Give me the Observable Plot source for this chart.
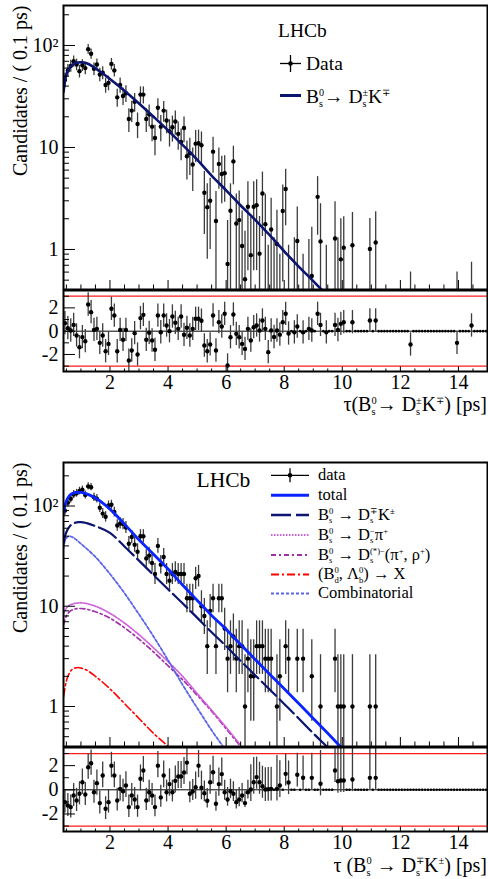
<!DOCTYPE html>
<html><head><meta charset="utf-8">
<script src="https://cdn.jsdelivr.net/npm/d3@7"></script>
<script src="https://cdn.jsdelivr.net/npm/@observablehq/plot@0.6"></script>
<style>
body{margin:0;background:#fff;}
#page{position:relative;width:488px;height:879px;overflow:hidden;font-family:"Liberation Serif","Times New Roman",serif;color:#000;background:#fff;}
.panel{position:absolute;left:0;}
.txt{position:absolute;white-space:nowrap;line-height:1;}
.ss{position:relative;display:inline-block;font-size:0.52em;vertical-align:0.692em;line-height:1;}
.ss>.u{display:block;line-height:1;}
.ss>.d{position:absolute;left:0;top:1.115em;line-height:1;}
</style></head>
<body><div id="page"></div>
<script>
// ---------------- DATA ----------------
const tDomain = [0.4, 15];
const tStart = 0.4, binWidth = 0.1;
const xMajorTicks = [2, 4, 6, 8, 10, 12, 14];
const yMajorTicks = [1, 10, 100];
const pullTicks = [-2, 0, 2];
const yTitle = "Candidates / ( 0.1 ps)";

// top panel (sFit, weighted data)
const sfitValue = [
 46,57,63,70,65,56,64,60,92,83,
 59,65,52,54,41,43,66,57,31,41,
 32,34,19,23,28,17,33,33,19,21,
 16,12.4,24.5,16,23,18.4,14.4,15.8,18,13.6,
 11.3,15.5,8.2,8.8,6.8,10.9,11,10.5,3.6,2.6,
 3.0,9.1,1.9,6.9,5.5,5.6,0.72,2.4,7.3,1.8,
 1.94,1.08,0.51,2.62,0.88,2.62,2.72,0.91,3.54,1.77,
 0.2,1.57,0.3,1.13,0.1,2.38,3.91,0.2,null,0.3,
 1.21,null,0.1,null,0.25,0.55,null,3.28,1.2,null,
 0.2,null,null,1.28,0.3,0.8,1.04,null,null,1.1,
 null,null,null,null,null,1.01,null,1.17,null,null,
 null,null,null,null,null,null,null,null,null,-0.3,
 null,null,null,null,null,null,null,null,null,null,
 null,null,null,null,null,-0.3,null,null,null,null,
 0.15,null,null,null,null,null];
const sfitError = [
 7.5,8,8.5,9,8.5,8,8.5,8.3,10,9.6,
 8.2,8.6,7.8,7.9,7,7.1,8.6,8,6.2,7,
 6.2,6.4,5,5.4,5.9,4.8,6.3,6.3,5,5.1,
 4.6,4.1,5.6,4.6,5.3,4.8,4.3,4.5,4.8,4.2,
 3.9,4.4,3.4,3.5,3.1,3.8,3.8,3.7,2.2,1.8,
 2.0,3.5,1.8,3.0,2.7,2.7,1.2,2.0,3.0,1.7,
 1.8,1.3,1.0,2.0,1.2,2.0,2.1,1.2,2.2,1.7,
 0.9,1.6,1.0,1.3,0.8,1.9,2.2,0.9,null,1.0,
 1.4,null,0.8,null,1.0,1.1,null,1.9,1.6,null,
 0.9,null,null,1.65,1.0,1.2,1.05,null,null,1.2,
 null,null,null,null,null,1.0,null,1.17,null,null,
 null,null,null,null,null,null,null,null,null,0.9,
 null,null,null,null,null,null,null,null,null,null,
 null,null,null,null,null,0.9,null,null,null,null,
 0.6,null,null,null,null,null];
const sfitPull = [
 0.69,0.26,0.06,0.54,-0.37,-1.37,-0.51,-0.86,2.29,1.63,
 0.11,0.2,-1.0,-0.37,-1.72,-1.09,1.92,1.34,-1.72,0.11,
 -0.74,0.11,-2.52,-1.66,-0.17,-2.0,1.12,1.4,-0.74,-0.14,
 -0.8,-1.6,1.34,-0.09,1.34,0.49,0,1.26,0.72,0.2,
 1.26,-0.31,0.29,-0.37,0.2,1.06,1.06,0.9,-1.23,-1.72,
 -1.14,1.35,-1.66,0.77,0.4,1.49,-2.94,-0.52,1.43,-0.23,
 -0.52,-1.09,-1.52,0.2,-0.8,0.34,0.49,0.06,0.92,0.2,
 -1.8,0.06,-0.5,0.06,-0.3,0.77,1.49,-0.2,0,-0.1,
 0.4,0,-0.1,0,0.2,0.06,0,1.49,0.54,0,
 -0.1,0,0,0.54,0.1,0.63,0.77,0,0,0.77,
 0,0,0,0,0,0.92,0,0.92,0,0,
 0,0,0,0,0,0,0,0,0,-1.14,
 0,0,0,0,0,0,0,0,0,0,
 0,0,0,0,0,-1.0,0,0,0,0,
 0.49,0,0,0,0,0];
const sfitCurveT = [0.4,0.45,0.5,0.6,0.7,0.8,0.9,1.0,1.2,1.4,1.6,1.8,2.0,2.5,3.0,3.5,4.0,4.5,5.0,5.5,6.0,6.5,7.0,7.5,8.0,8.5,9.0,9.3];
const sfitCurveV = [35,45,52,60,64.5,67,68,68.5,67,62.5,57,52,47,36,27,20,14.7,10.6,7.6,5.3,3.8,2.7,1.95,1.38,0.96,0.68,0.49,0.4];

// bottom panel (cFit, event counts)
const cfitCount = [
 90,108,118,130,134,141,145,129,157,154,
 122,118,96,84,78,101,103,87,64,67,
 66,61,42,49,41,35,50,50,30,32,
 27,21,40,26,31,21,18,21,22,21,
 21,21,12,12,12,19,20,10,8,4,
 9,12,4,12,12,6,3,4,5,3,
 4,4,1,3,2,2,4,4,4,3,
 3,3,0,1,2,0,4,3,0,0,
 3,0,3,0,0,2,0,0,1,0,
 0,0,0,3,1,1,1,0,0,1,
 0,0,0,0,0,1,0,1,0,0,
 0,0,0,0,0,0,0,0,0,0,
 0,0,0,0,0,0,0,0,0,0,
 0,0,0,0,0,0,0,0,0,0,
 0,0,0,0,0,0];
const cfitPull = [
 -1.02,-1.30,-1.43,-0.47,-0.88,-0.33,0.63,-0.39,1.87,2.2,
 -0.2,0.55,-1.1,1.18,-1.57,-1.02,2.0,1.18,-0.88,0.08,
 -0.12,0.36,-1.43,-0.47,-0.8,-1.43,0.91,1.6,-0.88,-0.2,
 -0.47,-1.43,2.0,-0.63,1.18,-0.2,0.47,-0.2,0.74,1.1,
 1.1,1.43,2.25,-0.33,-0.14,0.22,2.0,0.17,-0.28,-0.9,
 0.63,1.45,-1.16,0.47,1.3,-0.2,-0.8,-0.12,-0.33,-1.02,
 -0.8,-0.47,-1.1,-0.2,0.03,0.63,1.05,0.63,0.3,0.03,
 0.05,0.08,0,0.08,0.36,0,1.32,0.6,0,0,
 1.24,0,1.0,0,0,0.99,0,0,0.5,0,
 0,0,0,1.6,0.71,0.77,0.77,0,0,0.85,
 0,0,0,0,0,0.99,0,0.99,0,0,
 0,0,0,0,0,0,0,0,0,0,
 0,0,0,0,0,0,0,0,0,0,
 0,0,0,0,0,0,0,0,0,0,
 0,0,0,0,0,0];
const cfitCurveT = [0.4,0.45,0.5,0.6,0.7,0.8,0.9,1.0,1.2,1.5,2.0,2.5,3.0,3.5,4.0,4.5,5.0,5.5,6.0,6.5,7.0,7.5,8.0,8.5,9.0,9.5,10.0];
const totalV  = [85,100,112,126,133,136,137,136.5,132,120,93,66,46,33,23.5,16.3,11.5,8.1,5.9,4.15,2.95,2.1,1.5,1.07,0.76,0.54,0.38];
const signalV = [42,50,55,62,66,68,69,69,67.5,63,54,39.5,28.5,20.5,14.8,10.7,7.7,5.5,4.0,2.85,2.05,1.48,1.06,0.76,0.54,0.39,0.28];
const bkgT    = [0.4,0.45,0.5,0.6,0.7,0.8,1.0,1.5,2.0,2.5,3.0,3.5,4.0,4.5,5.0,5.5,6.0,6.5];
const combV   = [38,45,48,50,49,47,42,31,21,13.5,8.3,5.0,2.9,1.65,0.97,0.58,0.36,0.22];
const dspiV   = [8.5,9.0,9.6,10.2,10.5,10.7,10.8,10.0,8.5,6.8,5.2,3.85,2.8,2.0,1.35,0.92,0.62,0.41];
const dstarV  = [6.5,7.4,8.0,8.8,9.2,9.4,9.5,8.8,7.6,6.1,4.7,3.5,2.55,1.85,1.3,0.9,0.6,0.4];
const bdlbT   = [0.4,0.5,0.6,0.7,0.8,0.9,1.0,1.2,1.5,2.0,2.5,3.0,3.5,4.0,4.3];
const bdlbV   = [1.25,1.8,2.15,2.35,2.42,2.45,2.42,2.3,2.0,1.5,1.07,0.76,0.54,0.40,0.33];

// ---------------- HELPERS ----------------
const W = 488, ML = 63, MR = 1, FW = W - ML - MR;
const FONT = '"Liberation Serif","Times New Roman",serif';
const page = document.getElementById("page");
const tBin = sfitValue.map((_, i) => +(tStart + binWidth * (i + 0.5)).toFixed(2));
const xMinorTicks = d3.range(0.5, 15.01, 0.5).filter(v => !xMajorTicks.includes(v));
const yMinorAll = [0.5,0.6,0.7,0.8,0.9,2,3,4,5,6,7,8,9,20,30,40,50,60,70,80,90,200];
const pullMinor = [-3, -1, 1, 3];
const fmtLog = d => d === 100 ? "10²" : String(d);
const series = (T, V) => T.map((t, i) => ({t, v: V[i]}));

function poissonLow(n) { if (n <= 0) return 0; return n * Math.pow(1 - 1/(9*n) - 1/(3*Math.sqrt(n)), 3); }
function poissonHigh(n) { const m = n + 1; return m * Math.pow(1 - 1/(9*m) + 1/(3*Math.sqrt(m)), 3); }

function place(el, top) {
  const d = document.createElement("div");
  d.className = "panel"; d.style.top = top + "px";
  d.appendChild(el); page.appendChild(d);
}
function addText(html, style) {
  const d = document.createElement("div");
  d.className = "txt"; Object.assign(d.style, style); d.innerHTML = html; page.appendChild(d);
}
const st = (a, b) => `<span class="ss"><span class="u">${a}</span>${b ? `<span class="d">${b}</span>` : ""}</span>`;

function mainPanel({height, mt, mb, yDomain, bars, dots, curves}) {
  const FH = height - mt - mb;
  const yMaj = yMajorTicks.filter(v => v >= yDomain[0] && v <= yDomain[1]);
  const yMin = yMinorAll.filter(v => v >= yDomain[0] && v <= yDomain[1]);
  return Plot.plot({
    width: W, height, marginLeft: ML, marginRight: MR, marginTop: mt, marginBottom: mb,
    style: {fontFamily: FONT, fontSize: "20px", background: "transparent", color: "black"},
    x: {domain: tDomain, axis: null, label: null},
    y: {type: "log", domain: yDomain, label: null},
    marks: [
      Plot.ruleX(bars, {x: "t", y1: "y1", y2: "y2", stroke: "#3c3c3c", strokeWidth: 1.3, clip: true}),
      Plot.dot(dots, {x: "t", y: "v", r: 2.2, fill: "black", clip: true}),
      ...curves.map(c => Plot.line(c.data, {x: "t", y: "v", stroke: c.color, strokeWidth: c.width,
        strokeDasharray: c.dash, curve: "monotone-x", clip: true})),
      Plot.tickY(yMaj, {y: d => d, insetRight: FW - 12, stroke: "black"}),
      Plot.tickY(yMin, {y: d => d, insetRight: FW - 6, stroke: "black"}),
      Plot.tickX(xMajorTicks, {x: d => d, insetTop: FH - 9, stroke: "black"}),
      Plot.tickX(xMinorTicks, {x: d => d, insetTop: FH - 4.5, stroke: "black"}),
      Plot.axisY({ticks: yMaj, tickSize: 0, tickPadding: 5, tickFormat: fmtLog, label: null}),
      Plot.text([yTitle], {text: d => d, frameAnchor: "top-left", rotate: -90, textAnchor: "end",
        lineAnchor: "middle", dx: -43}),
      Plot.frame({stroke: "black", strokeWidth: 2})
    ]
  });
}

function pullPanel({height, mt, mb, yDomain, bars, dots, zeros}) {
  const FH = height - mt - mb;
  return Plot.plot({
    width: W, height, marginLeft: ML, marginRight: MR, marginTop: mt, marginBottom: mb,
    style: {fontFamily: FONT, fontSize: "20px", background: "transparent", color: "black"},
    x: {domain: tDomain, label: null},
    y: {domain: yDomain, label: null},
    marks: [
      Plot.ruleY([-3, 3], {stroke: "#ff1a1a", strokeWidth: 1.2}),
      Plot.ruleY([0], {stroke: "black", strokeWidth: 1}),
      Plot.ruleX(bars, {x: "t", y1: "y1", y2: "y2", stroke: "#3c3c3c", strokeWidth: 1.3, clip: true}),
      Plot.dot(dots, {x: "t", y: "p", r: 2.2, fill: "black", clip: true}),
      Plot.dot(zeros, {x: "t", y: "p", r: 1.3, fill: "black", clip: true}),
      Plot.tickY(pullTicks, {y: d => d, insetRight: FW - 12, stroke: "black"}),
      Plot.tickY(pullMinor, {y: d => d, insetRight: FW - 6, stroke: "black"}),
      Plot.tickX(xMajorTicks, {x: d => d, insetTop: FH - 4.5, stroke: "black"}),
      Plot.tickX(xMinorTicks, {x: d => d, insetTop: FH - 2.5, stroke: "black"}),
      Plot.axisY({ticks: pullTicks, tickSize: 0, tickPadding: 5, tickFormat: d => String(d), label: null}),
      Plot.axisX({ticks: xMajorTicks, tickSize: 0, tickPadding: 3, tickFormat: d => String(d), label: null}),
      Plot.frame({stroke: "black", strokeWidth: 2})
    ]
  });
}

// ---------------- TOP PANEL ----------------
const sPts = sfitValue.map((v, i) => ({t: tBin[i], v, e: sfitError[i], p: sfitPull[i]}));
const sShown = sPts.filter(d => d.v !== null);
const topYDomain = [0.405, 246.6];
place(mainPanel({
  height: 290, mt: 5, mb: 1, yDomain: topYDomain,
  bars: sShown.filter(d => d.v + d.e > topYDomain[0]).map(d => ({t: d.t, y1: Math.max(d.v - d.e, 1e-3), y2: d.v + d.e})),
  dots: sShown.filter(d => d.v > 0),
  curves: [{data: series(sfitCurveT, sfitCurveV), color: "#0b1470", width: 2.6}]
}), 0);
place(pullPanel({
  height: 105, mt: 1, mb: 23, yDomain: [-3.46, 3.49],
  bars: sShown.map(d => ({t: d.t, y1: d.p - 1, y2: d.p + 1})),
  dots: sShown,
  zeros: sPts.filter(d => d.v === null)
}), 289);

// ---------------- BOTTOM PANEL ----------------
const cPts = cfitCount.map((n, i) => ({t: tBin[i], n, v: n, p: cfitPull[i], lo: poissonLow(n), hi: poissonHigh(n)}));
const cShown = cPts.filter(d => d.n > 0);
const botYDomain = [0.399, 271.6];
place(mainPanel({
  height: 287, mt: 2, mb: 1, yDomain: botYDomain,
  bars: cShown.map(d => ({t: d.t, y1: Math.max(d.lo, 1e-3), y2: d.hi})),
  dots: cShown,
  curves: [
    {data: series(bdlbT, bdlbV), color: "#ff0000", width: 1.6, dash: "8,3,2,3"},
    {data: series(bkgT, dstarV), color: "#a030a8", width: 1.7, dash: "5,3,2,3"},
    {data: series(bkgT, dspiV), color: "#d060d8", width: 1.7, dash: "1.5,1.5"},
    {data: series(bkgT, combV), color: "#5a64e8", width: 1.8, dash: "3,2"},
    {data: series(cfitCurveT, signalV), color: "#0b1470", width: 2.2, dash: "20,5"},
    {data: series(cfitCurveT, totalV), color: "#0a24ff", width: 2.8}
  ]
}), 460);
place(pullPanel({
  height: 108, mt: 1, mb: 23, yDomain: [-3.45, 3.5],
  bars: cShown.map(d => {
    const s = d.p > 0 ? (d.n - d.lo) : (d.hi - d.n);
    return {t: d.t, y1: d.p - (d.n - d.lo) / s, y2: d.p + (d.hi - d.n) / s};
  }),
  dots: cShown,
  zeros: cPts.filter(d => d.n === 0)
}), 746);

// ---------------- TEXT / LEGENDS ----------------
addText(`τ(B${st("0","s")}→ D${st("±","s")}K${st("∓","")})&nbsp;[ps]`, {right: "1px", top: "394px", fontSize: "20px"});
addText(`τ (B${st("0","s")} → D${st("∓","s")}K${st("±","")})&nbsp;[ps]`, {right: "1px", top: "854.5px", fontSize: "20px"});

addText("LHCb", {left: "278px", top: "20.6px", fontSize: "19.5px"});
addText("Data", {left: "306px", top: "53.5px", fontSize: "19.5px"});
addText(`B${st("0","s")}→ D${st("±","s")}K${st("∓","")}`, {left: "306px", top: "86.8px", fontSize: "19.5px"});

addText("LHCb", {left: "196.5px", top: "470px", fontSize: "21.5px"});
const legRows = [475.3, 495.3, 515, 535, 555, 574.5, 593.5];
const legLabels = [
  "data", "total",
  `B${st("0","s")} → D${st("∓","s")}K${st("±","")}`,
  `B${st("0","s")} → D${st("−","s")}π${st("+","")}`,
  `B${st("0","s")} → D${st("(*)−","s")}(π${st("+","")}, ρ${st("+","")})`,
  `(B${st("0","d")}, Λ${st("0","b")}) → X`,
  "Combinatorial"
];
legLabels.forEach((h, i) => addText(h, {left: "318px", top: (legRows[i] - 8.4) + "px", fontSize: "16.5px"}));

const sw = document.createElement("div");
sw.style.cssText = "position:absolute;left:0;top:0;width:488px;height:879px;pointer-events:none";
const R = legRows;
sw.innerHTML = `<svg width="488" height="879" xmlns="http://www.w3.org/2000/svg">
 <g stroke="black" stroke-width="1.3"><line x1="280" x2="301" y1="63.5" y2="63.5"/><line x1="290.5" x2="290.5" y1="55" y2="72"/></g>
 <circle cx="290.5" cy="63.5" r="2.3"/>
 <line x1="280" x2="301" y1="95.5" y2="95.5" stroke="#0b1470" stroke-width="3"/>
 <g stroke="black" stroke-width="1.3"><line x1="271" x2="309" y1="${R[0]}" y2="${R[0]}"/><line x1="290" x2="290" y1="${R[0]-7}" y2="${R[0]+7}"/></g>
 <circle cx="290" cy="${R[0]}" r="2.3"/>
 <line x1="271" x2="309" y1="${R[1]}" y2="${R[1]}" stroke="#0a24ff" stroke-width="3"/>
 <line x1="271" x2="309" y1="${R[2]}" y2="${R[2]}" stroke="#0b1470" stroke-width="2.6" stroke-dasharray="20,5"/>
 <line x1="271" x2="309" y1="${R[3]}" y2="${R[3]}" stroke="#d060d8" stroke-width="2" stroke-dasharray="1.5,1.5"/>
 <line x1="271" x2="309" y1="${R[4]}" y2="${R[4]}" stroke="#a030a8" stroke-width="2" stroke-dasharray="5,3,2,3"/>
 <line x1="271" x2="309" y1="${R[5]}" y2="${R[5]}" stroke="#ff0000" stroke-width="2" stroke-dasharray="8,3,2,3"/>
 <line x1="271" x2="309" y1="${R[6]}" y2="${R[6]}" stroke="#5a64e8" stroke-width="2" stroke-dasharray="3,2"/>
</svg>`;
page.appendChild(sw);
</script></body></html>
